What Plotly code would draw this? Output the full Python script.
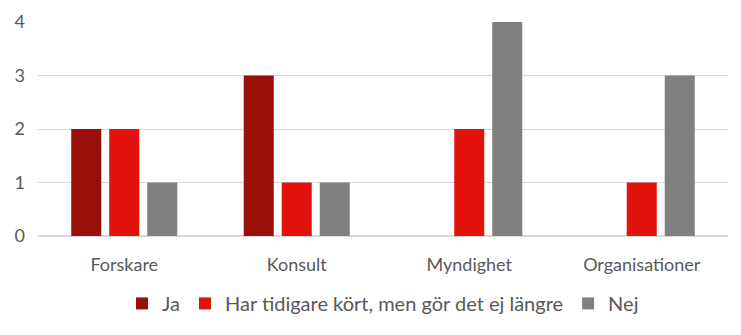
import plotly.graph_objects as go

categories = ["Forskare", "Konsult", "Myndighet", "Organisationer"]
ja = [2, 3, 0, 0]
har_tidigare = [2, 1, 2, 1]
nej = [1, 1, 4, 3]

series = [
    ("Ja", ja, "#9A0F0A"),
    ("Har tidigare kört, men gör det ej längre", har_tidigare, "#E2120C"),
    ("Nej", nej, "#808080"),
]

fig = go.Figure()
for name, values, color in series:
    fig.add_trace(go.Bar(x=categories, y=values, name=name, marker_color=color,
                         marker_line_width=0))

font_family = "Lato, 'Open Sans', sans-serif"
fig.update_layout(
    width=741, height=335,
    margin=dict(l=38, r=13, t=22, b=97),
    plot_bgcolor="white", paper_bgcolor="white",
    barmode="group", bargap=0.339, bargroupgap=0.21,
    font=dict(family=font_family, size=18, color="#595959"),
    showlegend=True,
    legend=dict(orientation="h", x=0.5, xanchor="center", y=-0.315, yanchor="middle",
                font=dict(size=20, color="#595959"), itemwidth=30,
                traceorder="normal"),
)
fig.update_yaxes(range=[0, 4], dtick=1, showgrid=True, gridcolor="#D9D9D9",
                 gridwidth=1, zeroline=True, zerolinecolor="#D9D9D9",
                 ticks="", ticklabelstandoff=12, automargin=False)
fig.update_xaxes(showgrid=False, ticks="", showline=False, ticklabelstandoff=16,
                 automargin=False)

fig.write_html("out.html")
